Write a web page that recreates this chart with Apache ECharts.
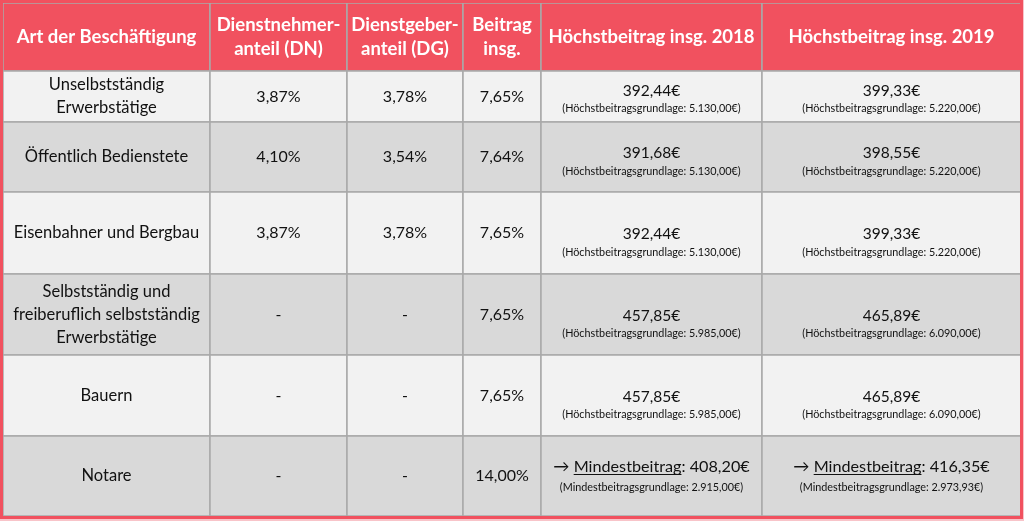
<!DOCTYPE html>
<html><head><meta charset="utf-8">
<script src="https://cdn.jsdelivr.net/npm/echarts@6/dist/echarts.min.js"></script>
<style>html,body{margin:0;padding:0;background:#fff}#c{width:1024px;height:521px}</style>
</head><body><div id="c"></div>
<script>
// ---- data ----
const headers = ['Art der Beschäftigung', 'Dienstnehmer-\nanteil (DN)', 'Dienstgeber-\nanteil (DG)', 'Beitrag\ninsg.', 'Höchstbeitrag insg. 2018', 'Höchstbeitrag insg. 2019'];
const categories = ['Unselbstständig\nErwerbstätige', 'Öffentlich Bedienstete', 'Eisenbahner und Bergbau', 'Selbstständig und\nfreiberuflich selbstständig\nErwerbstätige', 'Bauern', 'Notare'];
const dnShare = ['3,87%', '4,10%', '3,87%', '-', '-', '-'];
const dgShare = ['3,78%', '3,54%', '3,78%', '-', '-', '-'];
const totalRate = ['7,65%', '7,64%', '7,65%', '7,65%', '7,65%', '14,00%'];
const max2018 = ['392,44€', '391,68€', '392,44€', '457,85€', '457,85€', '408,20€'];
const base2018 = ['5.130,00€', '5.130,00€', '5.130,00€', '5.985,00€', '5.985,00€', '2.915,00€'];
const max2019 = ['399,33€', '398,55€', '399,33€', '465,89€', '465,89€', '416,35€'];
const base2019 = ['5.220,00€', '5.220,00€', '5.220,00€', '6.090,00€', '6.090,00€', '2.973,93€'];
const isMinimum = [false, false, false, false, false, true];

// ---- layout (table geometry in grid units = px) ----
const colEdges = [0, 207, 344, 460, 538, 759, 1018];
const rowEdges = [0, 68, 119, 189, 271, 352, 433, 513];
const moneyOffset = [2, 4, 9, 9, 9, 0];
const FONT = 'Lato, "Open Sans", sans-serif';
const RED = '#F1515F';
const LINE = '#A9A9A9';
const TXT = '#111111';

const measureCtx = document.createElement('canvas').getContext('2d');
function tw(s, size) { measureCtx.font = size + 'px ' + FONT; return measureCtx.measureText(s).width; }

const cells = [];
for (let r = 0; r <= categories.length; r++) for (let c = 0; c < headers.length; c++) cells.push([c, r]);

function moneyText(i, col) {
  const val = col === 4 ? max2018[i] : max2019[i];
  const base = col === 4 ? base2018[i] : base2019[i];
  if (isMinimum[i]) {
    return '{b|→ Mindestbeitrag: ' + val + '}\n{t|(Mindestbeitragsgrundlage: ' + base + ')}';
  }
  return '{m|' + val + '}\n{s|(Höchstbeitragsgrundlage: ' + base + ')}';
}

function renderItem(params, api) {
  const c = api.value(0), r = api.value(1);
  const p0 = api.coord([colEdges[c], rowEdges[r]]);
  const p1 = api.coord([colEdges[c + 1], rowEdges[r + 1]]);
  const x = p0[0], y = p0[1], w = p1[0] - p0[0], h = p1[1] - p0[1];
  const cx = x + w / 2, cy = y + h / 2;
  const fill = r === 0 ? RED : (r % 2 === 1 ? '#F2F2F2' : '#D9D9D9');
  const children = [{
    type: 'rect', shape: { x: x, y: y, width: w, height: h },
    style: { fill: fill, stroke: LINE, lineWidth: 1.5 }
  }];
  if (r === 0) {
    children.push({ type: 'text', x: cx, y: cy, style: {
      text: headers[c], fill: '#FFFFFF', font: 'bold 18.5px ' + FONT,
      align: 'center', verticalAlign: 'middle', lineHeight: 24 } });
  } else {
    const i = r - 1;
    if (c <= 3) {
      const t = [categories, dnShare, dgShare, totalRate][c][i];
      children.push({ type: 'text', x: cx, y: cy, style: {
        text: t, fill: TXT, font: (c === 0 ? '16.5px ' : '16px ') + FONT,
        align: 'center', verticalAlign: 'middle', lineHeight: 23 } });
    } else {
      const off = moneyOffset[i];
      children.push({ type: 'text', x: cx, y: cy + off, style: {
        text: moneyText(i, c), fill: TXT, align: 'center', verticalAlign: 'middle',
        rich: {
          m: { fontSize: 15.5, fontFamily: FONT, lineHeight: 21, fill: TXT, color: TXT },
          s: { fontSize: 10.8, fontFamily: FONT, lineHeight: 16, fill: TXT, color: TXT },
          b: { fontSize: 16.2, fontFamily: FONT, lineHeight: 24, fill: TXT, color: TXT },
          t: { fontSize: 10.8, fontFamily: FONT, lineHeight: 18, fill: TXT, color: TXT }
        } } });
      if (isMinimum[i]) {
        const val = c === 4 ? max2018[i] : max2019[i];
        const a = tw('→ ', 16.2), b = tw('Mindestbeitrag', 16.2), d = tw(': ' + val, 16.2);
        const left = cx - (a + b + d) / 2 + a;
        const uy = cy + off - 21 + 12 + 7.5;
        children.push({ type: 'line', shape: { x1: left, y1: uy, x2: left + b, y2: uy },
          style: { stroke: TXT, lineWidth: 1 } });
      }
    }
  }
  return { type: 'group', children: children };
}

const chart = echarts.init(document.getElementById('c'));
chart.setOption({
  backgroundColor: RED,
  animation: false,
  grid: { left: 3, top: 3, width: 1018, height: 513 },
  xAxis: { type: 'value', min: 0, max: 1018, show: false },
  yAxis: { type: 'value', min: 0, max: 513, inverse: true, show: false },
  series: [{ type: 'custom', renderItem: renderItem, data: cells, clip: false }],
  graphic: [
    { type: 'rect', z: 100, shape: { x: 1.5, y: 1.5, width: 1020, height: 516 }, style: { fill: null, stroke: RED, lineWidth: 3 } },
    { type: 'rect', z: 101, shape: { x: 1023, y: 0, width: 1, height: 521 }, style: { fill: '#F8C4C9' } },
    { type: 'rect', z: 101, shape: { x: 0, y: 519, width: 1024, height: 2 }, style: { fill: '#F8C4C9' } }
  ]
});
</script>
</body></html>
